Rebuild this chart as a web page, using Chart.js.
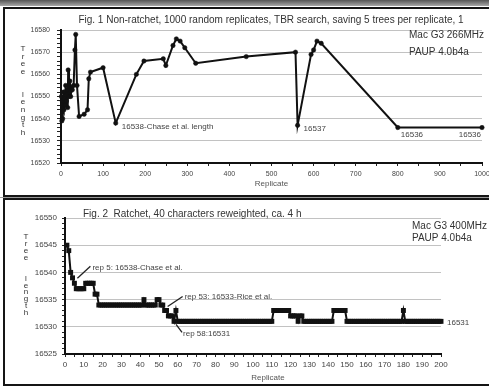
<!DOCTYPE html>
<html>
<head>
<meta charset="utf-8">
<title>Tree length by replicate</title>
<script src="https://cdn.jsdelivr.net/npm/chart.js@4.4.1/dist/chart.umd.min.js"></script>
<style>
  html, body { margin: 0; padding: 0; }
  body { position: relative; width: 489px; height: 387px; overflow: hidden; background: #fff; }
  #topband { position: absolute; left: 0; top: 0; width: 489px; height: 6px; background: linear-gradient(#555, #a8a8a8); }
  #sep { position: absolute; left: 0; top: 197px; width: 489px; height: 1px; background: #999; }
  .panel { position: absolute; left: 3px; width: 500px; border: 2px solid #151515; background: #fff; }
  #panel1 { top: 7px; height: 186px; }
  #panel2 { top: 198px; height: 184px; }
  canvas { display: block; }
</style>
</head>
<body>
<div id="topband"></div>
<div id="sep"></div>
<div class="panel" id="panel1"><canvas id="fig1" width="484" height="186"></canvas></div>
<div class="panel" id="panel2"><canvas id="fig2" width="484" height="184"></canvas></div>
<script>
"use strict";

// Fig. 1 - non-ratchet, 1000 random replicates
const fig1Replicates = [1, 2, 3, 4, 5, 6, 7, 8, 10, 11, 13, 14, 16, 17, 19, 21, 23, 25, 27, 30, 33, 35, 38, 43, 55, 63, 66, 70, 100, 130, 179, 197, 243, 249, 266, 274, 283, 294, 320, 440, 557, 562, 594, 600, 608, 618, 800, 1000];
const fig1Lengths = [16550, 16539, 16548, 16540, 16545, 16552, 16544, 16549, 16546, 16555, 16548, 16553, 16545, 16562, 16550, 16557, 16550, 16554, 16553, 16555, 16571, 16578, 16555, 16541, 16542, 16544, 16558, 16561, 16563, 16538, 16560, 16566, 16567, 16564, 16573, 16576, 16575, 16572, 16565, 16568, 16570, 16537, 16569, 16571, 16575, 16574, 16536, 16536];
const fig1XLabels = [0, 100, 200, 300, 400, 500, 600, 700, 800, 900, 1000];
const fig1YLabels = [16520, 16530, 16540, 16550, 16560, 16570, 16580];

// Fig. 2 - ratchet, one value per replicate 1..200
const fig2Lengths = [
  16545, 16544, 16540, 16539, 16538, 16537, 16537, 16537, 16537, 16537,
  16538, 16538, 16538, 16538, 16538, 16536, 16536, 16534, 16534, 16534,
  16534, 16534, 16534, 16534, 16534, 16534, 16534, 16534, 16534, 16534,
  16534, 16534, 16534, 16534, 16534, 16534, 16534, 16534, 16534, 16534,
  16534, 16535, 16534, 16534, 16534, 16534, 16534, 16534, 16535, 16535,
  16534, 16534, 16533, 16533, 16532, 16532, 16532, 16531, 16533, 16531,
  16531, 16531, 16531, 16531, 16531, 16531, 16531, 16531, 16531, 16531,
  16531, 16531, 16531, 16531, 16531, 16531, 16531, 16531, 16531, 16531,
  16531, 16531, 16531, 16531, 16531, 16531, 16531, 16531, 16531, 16531,
  16531, 16531, 16531, 16531, 16531, 16531, 16531, 16531, 16531, 16531,
  16531, 16531, 16531, 16531, 16531, 16531, 16531, 16531, 16531, 16531,
  16533, 16533, 16533, 16533, 16533, 16533, 16533, 16533, 16533, 16532,
  16532, 16532, 16532, 16531, 16532, 16532, 16531, 16531, 16531, 16531,
  16531, 16531, 16531, 16531, 16531, 16531, 16531, 16531, 16531, 16531,
  16531, 16531, 16533, 16533, 16533, 16533, 16533, 16533, 16533, 16531,
  16531, 16531, 16531, 16531, 16531, 16531, 16531, 16531, 16531, 16531,
  16531, 16531, 16531, 16531, 16531, 16531, 16531, 16531, 16531, 16531,
  16531, 16531, 16531, 16531, 16531, 16531, 16531, 16531, 16531, 16533,
  16531, 16531, 16531, 16531, 16531, 16531, 16531, 16531, 16531, 16531,
  16531, 16531, 16531, 16531, 16531, 16531, 16531, 16531, 16531, 16531
];
const fig2Replicates = fig2Lengths.map((v, i) => i + 1);
const fig2XLabels = [0, 10, 20, 30, 40, 50, 60, 70, 80, 90, 100, 110, 120, 130, 140, 150, 160, 170, 180, 190, 200];
const fig2YLabels = [16525, 16530, 16535, 16540, 16545, 16550];

const FONT = "\"Liberation Sans\", Arial, Helvetica, sans-serif";
Chart.defaults.font.family = FONT;
Chart.defaults.color = "#444";

drawFig1();
drawFig2();

function toPoints(xs, ys) {
  return xs.map((x, i) => ({ x: x, y: ys[i] }));
}

function buildScales(o) {
  return {
    x: {
      type: "linear",
      min: o.xMin,
      max: o.xMax,
      afterFit: (scale) => {
        scale.height = o.xHeight;
        scale.paddingLeft = 0;
        scale.paddingRight = 0;
      },
      ticks: {
        stepSize: o.xStep,
        autoSkip: false,
        maxRotation: 0,
        padding: o.xPad,
        font: { size: o.tickSize },
        callback: (v) => (o.xLabels.includes(v) ? String(v) : ""),
      },
      grid: { drawOnChartArea: false, tickLength: 3, tickColor: "#222", tickWidth: 1 },
      border: { display: true, color: "#111", width: 2 },
      title: o.xTitle
        ? { display: true, text: o.xTitle, color: "#555", font: { size: 8 }, padding: { top: 0, bottom: 6 } }
        : { display: false },
    },
    y: {
      type: "linear",
      min: o.yMin,
      max: o.yMax,
      afterFit: (scale) => {
        scale.width = o.yWidth;
        scale.paddingTop = 0;
        scale.paddingBottom = 0;
      },
      ticks: {
        stepSize: o.yStep,
        autoSkip: false,
        padding: o.yPad,
        font: { size: o.tickSize },
        callback: (v) => (o.yLabels.includes(v) ? String(v) : ""),
      },
      grid: {
        color: (c) =>
          c.tick && c.tick.value !== o.yMin && o.yLabels.includes(c.tick.value)
            ? "#c2c2c2"
            : "rgba(0,0,0,0)",
        tickColor: "#222",
        tickLength: o.yTick,
        lineWidth: 1,
      },
      border: { display: true, color: "#111", width: 2 },
    },
  };
}

function figTextPlugin(cfg) {
  return {
    id: cfg.id,
    afterDraw(chart) {
      const ctx = chart.ctx;
      const xScale = chart.scales.x;
      const yScale = chart.scales.y;
      ctx.save();
      ctx.textBaseline = "middle";
      cfg.fixed.forEach((t) => {
        ctx.font = t.font;
        ctx.fillStyle = t.color;
        ctx.textAlign = t.align;
        ctx.fillText(t.text, t.x, t.y);
      });
      ctx.font = "8px " + FONT;
      ctx.fillStyle = "#333";
      ctx.textAlign = "center";
      [...cfg.yTitle.text].forEach((ch, i) => {
        ctx.fillText(ch, cfg.yTitle.x, cfg.yTitle.y + i * cfg.yTitle.step);
      });
      ctx.font = "8px " + FONT;
      ctx.fillStyle = "#444";
      ctx.strokeStyle = "#222";
      ctx.lineWidth = 1.3;
      cfg.notes.forEach((n) => {
        const px = xScale.getPixelForValue(n.at[0]);
        const py = yScale.getPixelForValue(n.at[1]);
        ctx.textAlign = n.align || "left";
        ctx.fillText(n.text, px + n.dx, py + n.dy);
        if (n.leader) {
          ctx.beginPath();
          ctx.moveTo(px + n.leader[0], py + n.leader[1]);
          ctx.lineTo(px + n.leader[2], py + n.leader[3]);
          ctx.stroke();
        }
      });
      ctx.restore();
    },
  };
}

function drawFig1() {
  const ctx = document.getElementById("fig1");
  const textPlugin = figTextPlugin({
    id: "fig1Text",
    fixed: [
      { text: "Fig. 1 Non-ratchet, 1000 random replicates, TBR search, saving 5 trees per replicate, 1", x: 266, y: 11, font: "10px " + FONT, color: "#333", align: "center" },
      { text: "Mac G3 266MHz", x: 404, y: 26, font: "10px " + FONT, color: "#333", align: "left" },
      { text: "PAUP 4.0b4a", x: 404, y: 43, font: "10px " + FONT, color: "#333", align: "left" },
    ],
    yTitle: { text: "Tree  length", x: 18, y: 40, step: 7.6 },
    notes: [
      { text: "16538-Chase et al. length", at: [130, 16538], dx: 6, dy: 4 },
      { text: "16537", at: [562, 16537], dx: 6, dy: 3 },
      { text: "16536", at: [800, 16536], dx: 3, dy: 7 },
      { text: "16536", at: [1000, 16536], dx: -1, dy: 7, align: "right" },
    ],
  });
  new Chart(ctx, {
    type: "line",
    data: {
      datasets: [
        {
          data: toPoints(fig1Replicates, fig1Lengths),
          borderColor: "#111",
          backgroundColor: "#111",
          borderWidth: 2,
          pointRadius: 2.2,
          pointBorderWidth: 0.5,
          pointStyle: "circle",
          tension: 0,
          clip: false,
        },
      ],
    },
    options: {
      responsive: false,
      animation: false,
      layout: { padding: { left: 0, right: 7, top: 21, bottom: 0 } },
      plugins: { legend: { display: false }, tooltip: { enabled: false } },
      scales: buildScales({
        xMin: 0, xMax: 1000, xStep: 50, xLabels: fig1XLabels, xHeight: 32, xPad: 4,
        yMin: 16520, yMax: 16580, yStep: 2, yLabels: fig1YLabels, yWidth: 56, yPad: 7, yTick: 4,
        tickSize: 7, xTitle: "Replicate",
      }),
    },
    plugins: [textPlugin],
  });
}

function drawFig2() {
  const ctx = document.getElementById("fig2");
  const textPlugin = figTextPlugin({
    id: "fig2Text",
    fixed: [
      { text: "Fig. 2  Ratchet, 40 characters reweighted, ca. 4 h", x: 78, y: 14, font: "10px " + FONT, color: "#333", align: "left" },
      { text: "Mac G3 400MHz", x: 407, y: 26, font: "10px " + FONT, color: "#333", align: "left" },
      { text: "PAUP 4.0b4a", x: 407, y: 38, font: "10px " + FONT, color: "#333", align: "left" },
      { text: "Replicate", x: 263, y: 178, font: "8px " + FONT, color: "#555", align: "center" },
    ],
    yTitle: { text: "Tree  length", x: 21, y: 37, step: 6.9 },
    notes: [
      { text: "rep 5: 16538-Chase et al.", at: [5, 16538], dx: 18, dy: -15, leader: [3, -5, 16, -17] },
      { text: "rep 53: 16533-Rice et al.", at: [53, 16533], dx: 20, dy: -14, leader: [3, -4, 18, -14] },
      { text: "rep 58:16531", at: [58, 16531], dx: 9, dy: 12, leader: [2, 3, 8, 11] },
      { text: "16531", at: [200, 16531], dx: 6, dy: 1 },
    ],
  });
  new Chart(ctx, {
    type: "line",
    data: {
      datasets: [
        {
          data: toPoints(fig2Replicates, fig2Lengths),
          borderColor: "#111",
          backgroundColor: "#111",
          borderWidth: 2,
          pointRadius: 3.5,
          pointBorderWidth: 0,
          pointStyle: "rect",
          tension: 0,
          clip: false,
        },
      ],
    },
    options: {
      responsive: false,
      animation: false,
      layout: { padding: { left: 0, right: 48, top: 18, bottom: 0 } },
      plugins: { legend: { display: false }, tooltip: { enabled: false } },
      scales: buildScales({
        xMin: 0, xMax: 200, xStep: 5, xLabels: fig2XLabels, xHeight: 30, xPad: 3,
        yMin: 16525, yMax: 16550, yStep: 1, yLabels: fig2YLabels, yWidth: 60, yPad: 5, yTick: 3,
        tickSize: 8, xTitle: null,
      }),
    },
    plugins: [textPlugin],
  });
}
</script>
</body>
</html>
